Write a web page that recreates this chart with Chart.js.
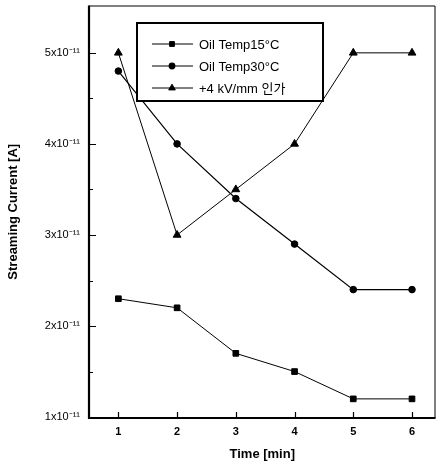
<!DOCTYPE html>
<html>
<head>
<meta charset="utf-8">
<script src="https://cdn.jsdelivr.net/npm/chart.js@4/dist/chart.umd.min.js"></script>
<style>
  html, body { margin: 0; padding: 0; background: #fff; }
  #wrap { width: 441px; height: 466px; }
</style>
</head>
<body>
<div id="wrap"><canvas id="chart" width="441" height="466"></canvas></div>
<script>
// time in minutes
const times = [1, 2, 3, 4, 5, 6];
// streaming current, in units of 1x10^-11 A
const temp15 = [2.3, 2.2, 1.7, 1.5, 1.2, 1.2];
const temp30 = [4.8, 4.0, 3.4, 2.9, 2.4, 2.4];
const kv4 = [5.0, 3.0, 3.5, 4.0, 5.0, 5.0];
const seriesLabels = ['Oil Temp15°C', 'Oil Temp30°C', '+4 kV/mm 인가'];
const yTicks = [1, 2, 3, 4, 5];
const xTicks = [1, 2, 3, 4, 5, 6];

const FONT = '"Liberation Sans", Arial, "Noto Sans CJK KR", sans-serif';

function pts(ys) {
  return times.map((t, i) => ({ x: t, y: ys[i] }));
}

// inward tick marks on the left and bottom axes
const innerTicks = {
  id: 'innerTicks',
  afterDraw(chart) {
    const ctx = chart.ctx;
    const xs = chart.scales.x, ys = chart.scales.y;
    const a = chart.chartArea;
    ctx.save();
    ctx.strokeStyle = '#000';
    ctx.lineWidth = 1.2;
    ctx.beginPath();
    xTicks.forEach(v => {
      const px = Math.round(xs.getPixelForValue(v)) + 0.5;
      ctx.moveTo(px, a.bottom);
      ctx.lineTo(px, a.bottom - 6);
    });
    for (let v = 1; v <= 5.001; v += 0.5) {
      const py = Math.round(ys.getPixelForValue(v)) + 0.5;
      const len = Number.isInteger(v) ? 7 : 4;
      ctx.moveTo(a.left, py);
      ctx.lineTo(a.left + len, py);
    }
    ctx.stroke();
    // frame: heavier left/bottom, thin top/right
    ctx.lineWidth = 1;
    ctx.beginPath();
    ctx.moveTo(a.left, a.top + 0.5);
    ctx.lineTo(a.right - 0.5, a.top + 0.5);
    ctx.lineTo(a.right - 0.5, a.bottom);
    ctx.stroke();
    ctx.lineWidth = 2.2;
    ctx.beginPath();
    ctx.moveTo(a.left, a.top);
    ctx.lineTo(a.left, a.bottom);
    ctx.lineTo(a.right, a.bottom);
    ctx.stroke();
    ctx.restore();
  }
};

// boxed legend inside the plot
const boxLegend = {
  id: 'boxLegend',
  afterDraw(chart) {
    const ctx = chart.ctx;
    const bx = 137, by = 23, bw = 186, bh = 78;
    ctx.save();
    ctx.fillStyle = '#fff';
    ctx.fillRect(bx, by, bw, bh);
    ctx.strokeStyle = '#000';
    ctx.lineWidth = 2;
    ctx.strokeRect(bx, by, bw, bh);
    chart.data.datasets.forEach((ds, i) => {
      const y = 44 + i * 22;
      ctx.strokeStyle = '#000';
      ctx.fillStyle = '#000';
      ctx.lineWidth = ds.borderWidth;
      ctx.beginPath();
      ctx.moveTo(152, y);
      ctx.lineTo(193, y);
      ctx.stroke();
      Chart.helpers.drawPoint(ctx, {
        pointStyle: ds.pointStyle,
        radius: ds.pointRadius * 0.85,
        rotation: 0,
        borderWidth: 1
      }, 172, y);
      ctx.font = '13px ' + FONT;
      ctx.textBaseline = 'middle';
      ctx.fillText(ds.label, 199, y + 1);
    });
    ctx.restore();
  }
};

const common = {
  borderColor: '#000',
  backgroundColor: '#000',
  pointBackgroundColor: '#000',
  pointBorderColor: '#000',
  pointBorderWidth: 1,
  showLine: true,
  tension: 0
};

new Chart(document.getElementById('chart'), {
  type: 'scatter',
  data: {
    datasets: [
      Object.assign({ label: seriesLabels[0], data: pts(temp15), borderWidth: 1, pointStyle: 'rect', pointRadius: 4 }, common),
      Object.assign({ label: seriesLabels[1], data: pts(temp30), borderWidth: 1.2, pointStyle: 'circle', pointRadius: 3.3 }, common),
      Object.assign({ label: seriesLabels[2], data: pts(kv4), borderWidth: 1, pointStyle: 'triangle', pointRadius: 4.5 }, common)
    ]
  },
  options: {
    responsive: false,
    animation: false,
    layout: { padding: { top: 5, right: 4, left: 0, bottom: 0 } },
    plugins: { legend: { display: false }, tooltip: { enabled: false } },
    scales: {
      x: {
        type: 'linear',
        min: 0.5,
        max: 6.4,
        afterBuildTicks(s) { s.ticks = xTicks.map(v => ({ value: v })); },
        afterFit(s) { s.height = 48; s.paddingLeft = 0; s.paddingRight = 0; },
        grid: { display: false, drawTicks: false },
        border: { display: false },
        ticks: {
          padding: 7,
          color: '#000',
          font: { family: FONT, size: 11, weight: 'bold' },
          callback: v => String(v)
        },
        title: {
          display: true,
          text: 'Time [min]',
          color: '#000',
          padding: { top: 4 },
          font: { family: FONT, size: 13, weight: 'bold' }
        }
      },
      y: {
        type: 'linear',
        min: 0.99,
        max: 5.52,
        afterBuildTicks(s) { s.ticks = yTicks.map(v => ({ value: v })); },
        afterFit(s) { s.width = 89; s.paddingTop = 0; s.paddingBottom = 0; },
        grid: { display: false, drawTicks: false },
        border: { display: false },
        ticks: {
          padding: 9,
          color: '#000',
          font: { family: FONT, size: 11 },
          callback: v => v + 'x10⁻¹¹'
        },
        title: {
          display: true,
          text: 'Streaming Current [A]',
          color: '#000',
          padding: { top: 6, bottom: 2 },
          font: { family: FONT, size: 13, weight: 'bold' }
        }
      }
    }
  },
  plugins: [innerTicks, boxLegend]
});
</script>
</body>
</html>
